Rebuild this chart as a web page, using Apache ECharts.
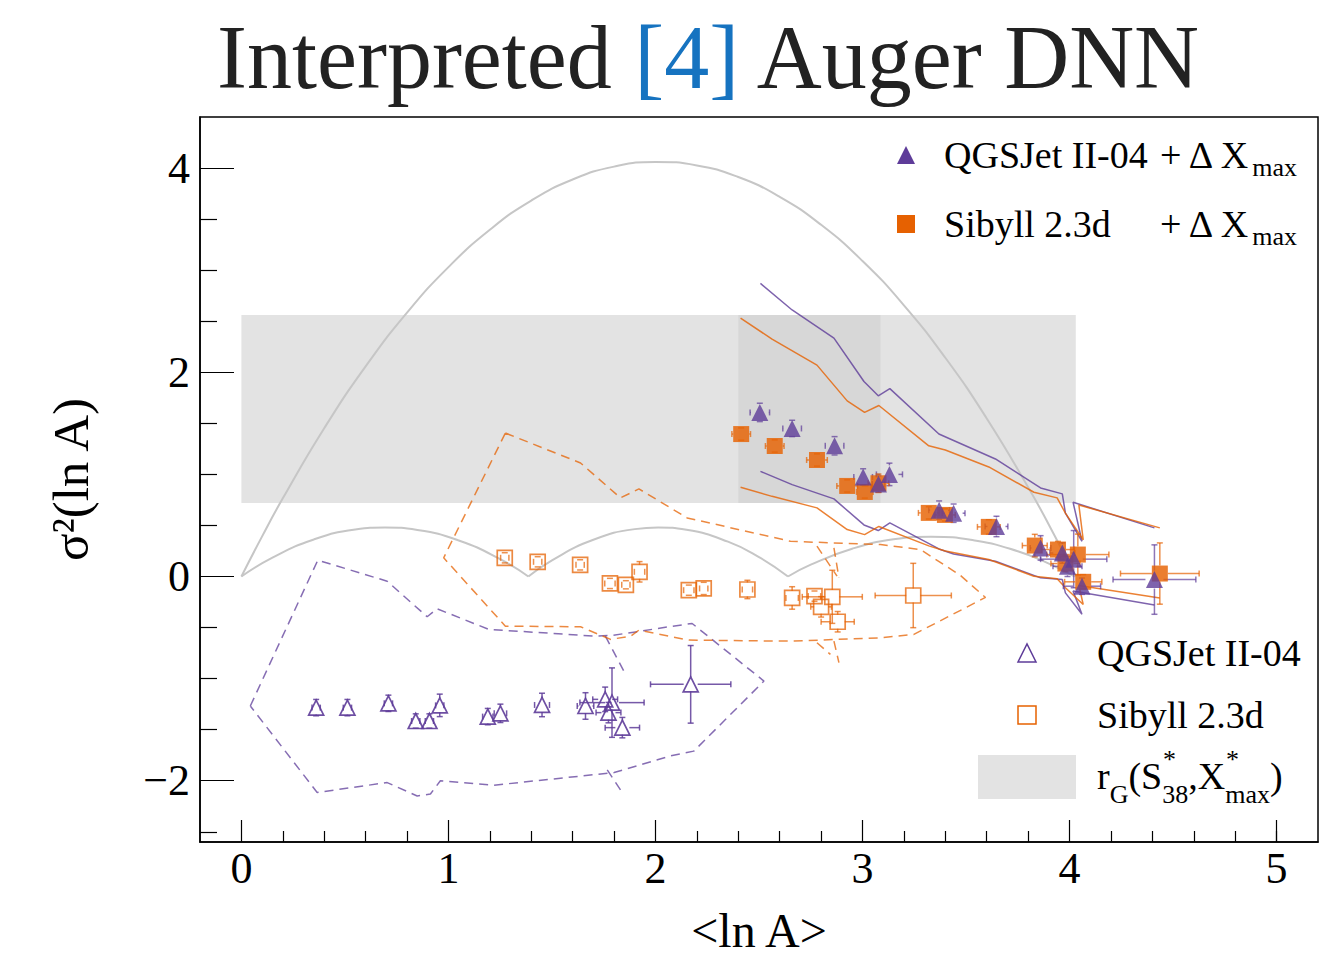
<!DOCTYPE html>
<html><head><meta charset="utf-8">
<script src="https://cdn.jsdelivr.net/npm/echarts@6/dist/echarts.min.js"></script>
<style>html,body{margin:0;padding:0;background:#fff}#c{width:1324px;height:964px}</style>
</head><body><div id="c"></div>
<script>
// ---------- data ----------
// QGSJet II-04 + dXmax (filled triangles)
const qdX  = [2.504, 2.66, 2.865, 3.003, 3.077, 3.13, 3.37, 3.44, 3.647, 3.86, 3.965, 3.99, 4.06, 4.02, 4.41];
const qdY  = [1.607, 1.45, 1.28, 0.975, 0.905, 1.00, 0.65, 0.62, 0.49, 0.28, 0.23, 0.10, -0.095, 0.17, -0.03];
const qdXe = [0.047, 0.045, 0.045, 0.045, 0.03, 0.063, 0.05, 0.055, 0.055, 0.05, 0.06, 0.07, 0.09, 0.16, 0.2];
const qdYe = [0.09, 0.08, 0.09, 0.08, 0.08, 0.11, 0.09, 0.09, 0.1, 0.12, 0.1, 0.1, 0.08, 0.28, 0.34];
// Sibyll 2.3d + dXmax (filled squares)
const sdX  = [2.414, 2.576, 2.78, 2.926, 3.011, 3.077, 3.32, 3.398, 3.61, 3.832, 3.944, 3.98, 4.066, 4.04, 4.436];
const sdY  = [1.395, 1.278, 1.141, 0.887, 0.828, 0.913, 0.623, 0.603, 0.486, 0.303, 0.264, 0.127, -0.052, 0.215, 0.029];
const sdXe = [0.045, 0.045, 0.05, 0.05, 0.04, 0.05, 0.05, 0.05, 0.055, 0.06, 0.08, 0.07, 0.09, 0.15, 0.19];
const sdYe = [0.06, 0.06, 0.06, 0.06, 0.06, 0.09, 0.06, 0.06, 0.07, 0.11, 0.08, 0.08, 0.07, 0.2, 0.30];
// QGSJet II-04 (open triangles)
const qX  = [0.361, 0.512, 0.71, 0.842, 0.908, 0.958, 1.19, 1.251, 1.452, 1.662, 1.757, 1.79, 1.773, 1.84, 2.17];
const qY  = [-1.284, -1.284, -1.242, -1.415, -1.415, -1.262, -1.372, -1.34, -1.258, -1.268, -1.203, -1.235, -1.333, -1.48, -1.056];
const qXe = [0.02, 0.02, 0.02, 0.02, 0.02, 0.02, 0.025, 0.03, 0.036, 0.04, 0.06, 0.155, 0.06, 0.083, 0.194];
const qYe = [0.08, 0.08, 0.08, 0.07, 0.07, 0.11, 0.08, 0.09, 0.115, 0.13, 0.12, 0.34, 0.1, 0.1, 0.38];
// Sibyll 2.3d (open squares)
const sX  = [1.272, 1.431, 1.636, 1.78, 1.857, 1.923, 2.161, 2.233, 2.444, 2.66, 2.768, 2.80, 2.854, 2.88, 3.245];
const sY  = [0.183, 0.144, 0.114, -0.068, -0.081, 0.046, -0.134, -0.117, -0.127, -0.21, -0.192, -0.297, -0.199, -0.443, -0.186];
const sXe = [0.02, 0.02, 0.02, 0.025, 0.02, 0.025, 0.025, 0.02, 0.025, 0.03, 0.03, 0.05, 0.145, 0.08, 0.184];
const sYe = [0.05, 0.05, 0.05, 0.05, 0.04, 0.1, 0.05, 0.06, 0.09, 0.11, 0.05, 0.1, 0.26, 0.1, 0.315];

// systematic bands (solid lines)
const sysQX  = [2.507, 2.66, 2.862, 3.007, 3.076, 3.132, 3.369, 3.44, 3.642, 3.86, 3.965, 3.98, 4.06, 4.017, 4.41];
const sysQUp = [2.87, 2.61, 2.334, 1.91, 1.77, 1.84, 1.395, 1.332, 1.151, 0.867, 0.809, 0.62, 0.345, 0.727, 0.476];
const sysQLo = [1.03, 0.90, 0.76, 0.505, 0.45, 0.525, 0.27, 0.22, 0.15, -0.013, -0.03, -0.16, -0.37, -0.143, -0.28];
const sysSX  = [2.411, 2.563, 2.78, 2.926, 3.01, 3.079, 3.32, 3.40, 3.61, 3.828, 3.94, 3.98, 4.066, 4.045, 4.436];
const sysSUp = [2.53, 2.325, 2.07, 1.72, 1.607, 1.675, 1.28, 1.239, 1.073, 0.825, 0.77, 0.62, 0.36, 0.70, 0.476];
const sysSLo = [0.874, 0.785, 0.672, 0.46, 0.41, 0.49, 0.30, 0.25, 0.166, 0.003, -0.022, -0.11, -0.274, -0.088, -0.21];

// dashed contours
const contQX = [0.043, 0.369, 0.704, 0.897, 0.945, 1.195, 1.71, 1.79, 1.928, 2.072, 2.177, 2.524, 2.185, 2.072, 1.80, 1.219, 0.961, 0.913, 0.849, 0.704, 0.366, 0.043];
const contQY = [-1.268, 0.16, -0.046, -0.394, -0.316, -0.518, -0.584, -0.577, -0.535, -0.49, -0.46, -1.024, -1.71, -1.757, -1.92, -2.044, -2.0, -2.13, -2.149, -2.018, -2.115, -1.268];
const spurQX = [[1.758, 1.847], [1.767, 1.839]];
const spurQY = [[-0.584, -0.926], [-1.894, -2.115]];
const contSX = [1.275, 1.638, 1.831, 1.92, 2.153, 2.652, 2.78, 3.087, 3.28, 3.473, 3.594, 3.248, 3.087, 2.652, 2.161, 1.92, 1.88, 1.783, 1.638, 1.275, 0.977, 1.275];
const contSY = [1.405, 1.112, 0.77, 0.858, 0.574, 0.345, 0.335, 0.313, 0.264, 0.01, -0.205, -0.567, -0.6, -0.633, -0.623, -0.525, -0.584, -0.616, -0.492, -0.486, 0.183, 1.405];
const spurSX = [[2.78, 2.877], [2.862, 2.886], [2.78, 2.845], [2.862, 2.886]];
const spurSY = [[0.297, 0.003], [0.28, -0.013], [-0.649, -0.763], [-0.633, -0.844]];

// envelope (grey curves)
const envUpX = [0, 0.1, 0.2, 0.4, 0.6, 0.8, 1.0, 1.2, 1.4, 1.6, 1.8, 2.0, 2.2, 2.4, 2.6, 2.8, 3.0, 3.2, 3.4, 3.6, 3.8, 3.9, 4.03];
const envUpY = [0, 0.393, 0.766, 1.452, 2.058, 2.584, 3.03, 3.396, 3.682, 3.888, 4.014, 4.06, 4.026, 3.912, 3.718, 3.444, 3.09, 2.656, 2.142, 1.548, 0.874, 0.507, 0];
const arc1X = [0, 0.15, 0.35, 0.55, 0.693, 0.85, 1.05, 1.25, 1.386];
const arc1Y = [0, 0.185, 0.363, 0.46, 0.48, 0.456, 0.353, 0.17, 0];
const arc2X = [1.386, 1.5, 1.7, 1.9, 2.013, 2.15, 2.35, 2.5, 2.64];
const arc2Y = [0, 0.159, 0.36, 0.464, 0.48, 0.457, 0.341, 0.19, 0];
const arc3X = [2.64, 2.75, 2.95, 3.15, 3.33, 3.55, 3.75, 3.9, 4.025];
const arc3Y = [0, 0.116, 0.272, 0.364, 0.39, 0.35, 0.247, 0.126, 0];

// r_G band
const bandX = [0, 4.03];
const bandY = [0.72, 2.56];
const bandDarkX = [2.40, 3.087];

// axis ticks
const xMajor = [0, 1, 2, 3, 4, 5];
const xMinor = [0.2,0.4,0.6,0.8,1.2,1.4,1.6,1.8,2.2,2.4,2.6,2.8,3.2,3.4,3.6,3.8,4.2,4.4,4.6,4.8,5.0];
const yMajor = [-2, 0, 2, 4];
const yMinor = [-2.5,-1.5,-1,-0.5,0.5,1,1.5,2.5,3,3.5];

// ---------- drawing ----------
const PURPLE = '#5e3c99', ORANGE = '#e66101';
const SERIF = "'Liberation Serif','Times New Roman',serif";
const zip = (a, b) => a.map((v, i) => [v, b[i]]);
const zip4 = (a, b, c, d) => a.map((v, i) => [v, b[i], c[i], d[i]]);

function errSeries(x, y, xe, ye, color, half, opacity) {
  return {
    type: 'custom', z: 5, silent: true,
    data: zip4(x, y, xe, ye),
    encode: { x: 0, y: 1 },
    renderItem: function (params, api) {
      const vx = api.value(0), vy = api.value(1), ex = api.value(2), ey = api.value(3);
      const c = api.coord([vx, vy]);
      const l = api.coord([vx - ex, vy]), r = api.coord([vx + ex, vy]);
      const t = api.coord([vx, vy + ey]), b = api.coord([vx, vy - ey]);
      const st = { stroke: color, lineWidth: 1.5, opacity: opacity };
      const cap = 3;
      const ch = [];
      if (c[0] - l[0] > half) ch.push({ type: 'line', shape: { x1: l[0], y1: c[1], x2: c[0] - half, y2: c[1] }, style: st });
      if (r[0] - c[0] > half) ch.push({ type: 'line', shape: { x1: c[0] + half, y1: c[1], x2: r[0], y2: c[1] }, style: st });
      if (c[1] - t[1] > half) ch.push({ type: 'line', shape: { x1: c[0], y1: t[1], x2: c[0], y2: c[1] - half }, style: st });
      if (b[1] - c[1] > half) ch.push({ type: 'line', shape: { x1: c[0], y1: c[1] + half, x2: c[0], y2: b[1] }, style: st });
      ch.push({ type: 'line', shape: { x1: l[0], y1: c[1] - cap, x2: l[0], y2: c[1] + cap }, style: st });
      ch.push({ type: 'line', shape: { x1: r[0], y1: c[1] - cap, x2: r[0], y2: c[1] + cap }, style: st });
      ch.push({ type: 'line', shape: { x1: c[0] - cap, y1: t[1], x2: c[0] + cap, y2: t[1] }, style: st });
      ch.push({ type: 'line', shape: { x1: c[0] - cap, y1: b[1], x2: c[0] + cap, y2: b[1] }, style: st });
      return { type: 'group', children: ch };
    }
  };
}

function lineSeries(x, y, color, opt) {
  opt = opt || {};
  return {
    type: 'line', data: zip(x, y), showSymbol: false, symbol: 'none', silent: true,
    smooth: opt.smooth || false, z: opt.z || 3, animation: false,
    lineStyle: { color: color, width: opt.width || 1.5, type: opt.type || 'solid', opacity: opt.opacity == null ? 1 : opt.opacity }
  };
}

const series = [];
// band rectangles
series.push({
  type: 'custom', z: 1, silent: true,
  data: [[bandX[0], bandX[1], bandY[0], bandY[1], 0], [bandDarkX[0], bandDarkX[1], bandY[0], bandY[1], 1]],
  encode: { x: [0, 1], y: [2, 3] },
  renderItem: function (params, api) {
    const p0 = api.coord([api.value(0), api.value(3)]);
    const p1 = api.coord([api.value(1), api.value(2)]);
    return { type: 'rect', shape: { x: p0[0], y: p0[1], width: p1[0] - p0[0], height: p1[1] - p0[1] },
      style: { fill: api.value(4) ? '#d7d7d7' : '#e3e3e3' } };
  }
});
// envelope
const GREY = '#c6c6c6';
series.push(lineSeries(envUpX, envUpY, GREY, { smooth: true, width: 2, z: 2 }));
series.push(lineSeries(arc1X, arc1Y, GREY, { smooth: true, width: 2, z: 2 }));
series.push(lineSeries(arc2X, arc2Y, GREY, { smooth: true, width: 2, z: 2 }));
series.push(lineSeries(arc3X, arc3Y, GREY, { smooth: true, width: 2, z: 2 }));
// dashed contours
const DASH = [9, 6];
series.push(lineSeries(contQX, contQY, PURPLE, { type: DASH, opacity: 0.75 }));
spurQX.forEach((sx, i) => series.push(lineSeries(sx, spurQY[i], PURPLE, { type: DASH, opacity: 0.75 })));
series.push(lineSeries(contSX, contSY, ORANGE, { type: DASH, opacity: 0.75 }));
spurSX.forEach((sx, i) => series.push(lineSeries(sx, spurSY[i], ORANGE, { type: DASH, opacity: 0.75 })));
// systematic lines
series.push(lineSeries(sysQX, sysQUp, PURPLE, { opacity: 0.8 }));
series.push(lineSeries(sysQX, sysQLo, PURPLE, { opacity: 0.8 }));
series.push(lineSeries(sysSX, sysSUp, ORANGE, { opacity: 0.8 }));
series.push(lineSeries(sysSX, sysSLo, ORANGE, { opacity: 0.8 }));
// error bars
series.push(errSeries(qX, qY, qXe, qYe, PURPLE, 7, 0.85));
series.push(errSeries(sX, sY, sXe, sYe, ORANGE, 7, 0.7));
series.push(errSeries(qdX, qdY, qdXe, qdYe, PURPLE, 9, 0.7));
series.push(errSeries(sdX, sdY, sdXe, sdYe, ORANGE, 8, 0.7));
// markers
series.push({ type: 'scatter', z: 6, silent: true, data: zip(qX, qY), symbol: 'triangle', symbolSize: [15, 15],
  itemStyle: { color: 'rgba(255,255,255,0)', borderColor: PURPLE, borderWidth: 1.7, opacity: 0.9 } });
series.push({ type: 'scatter', z: 6, silent: true, data: zip(sX, sY), symbol: 'rect', symbolSize: [15, 15],
  itemStyle: { color: 'rgba(255,255,255,0)', borderColor: ORANGE, borderWidth: 1.7, opacity: 0.75 } });
series.push({ type: 'scatter', z: 7, silent: true, data: zip(sdX, sdY), symbol: 'rect', symbolSize: [16, 16],
  itemStyle: { color: ORANGE, opacity: 0.82 } });
series.push({ type: 'scatter', z: 8, silent: true, data: zip(qdX, qdY), symbol: 'triangle', symbolSize: [17, 17],
  itemStyle: { color: PURPLE, opacity: 0.8 } });

const minus = v => (v < 0 ? '\u2212' + Math.abs(v) : String(v));
const axisFont = { fontFamily: SERIF, fontSize: 44, color: '#000' };

const rich = {
  m: { fontFamily: SERIF, fontSize: 38, color: '#000', lineHeight: 44 },
  s: { fontFamily: SERIF, fontSize: 26, color: '#000', lineHeight: 10, verticalAlign: 'middle', padding: [24, 0, 0, 0] },
  t: { fontFamily: SERIF, fontSize: 26, color: '#000', lineHeight: 10, verticalAlign: 'middle', padding: [36, 0, 0, 0] }
};

const option = {
  animation: false,
  backgroundColor: '#fff',
  title: {
    text: '{a|Interpreted }{b|[4]}{a| Auger DNN}',
    left: 212, top: 7,
    textStyle: { fontWeight: 'normal', rich: {
      a: { fontFamily: SERIF, fontSize: 90, fontWeight: 'normal', color: '#222' },
      b: { fontFamily: SERIF, fontSize: 90, fontWeight: 'normal', color: '#1673c0' }
    } }
  },
  grid: { left: 200, top: 117, right: 6, bottom: 122, show: true, borderColor: '#000', borderWidth: 1.5, backgroundColor: 'transparent' },
  xAxis: [
    { type: 'value', min: -0.2, max: 5.2, position: 'bottom',
      axisLine: { show: true, onZero: false, lineStyle: { color: '#000', width: 1.5 } },
      axisTick: { show: true, inside: true, length: 22, customValues: xMajor, lineStyle: { color: '#000', width: 1.2 } },
      axisLabel: { show: true, customValues: xMajor, margin: 4, formatter: minus, ...axisFont },
      splitLine: { show: false },
      name: '<ln A>', nameLocation: 'middle', nameGap: 64,
      nameTextStyle: { fontFamily: SERIF, fontSize: 48, color: '#000' } },
    { type: 'value', min: -0.2, max: 5.2, position: 'bottom',
      axisLine: { show: false, onZero: false },
      axisTick: { show: true, inside: true, length: 11, customValues: xMinor, lineStyle: { color: '#000', width: 1.2 } },
      axisLabel: { show: false }, splitLine: { show: false } }
  ],
  yAxis: [
    { type: 'value', min: -2.6, max: 4.5, position: 'left',
      axisLine: { show: true, onZero: false, lineStyle: { color: '#000', width: 1.5 } },
      axisTick: { show: true, inside: true, length: 34, customValues: yMajor, lineStyle: { color: '#000', width: 1.2 } },
      axisLabel: { show: true, customValues: yMajor, margin: 10, formatter: minus, ...axisFont },
      splitLine: { show: false },
      name: '\u03c3\u00b2(ln A)', nameLocation: 'middle', nameGap: 104, nameRotate: 90,
      nameTextStyle: { fontFamily: SERIF, fontSize: 51, color: '#000' } },
    { type: 'value', min: -2.6, max: 4.5, position: 'left',
      axisLine: { show: false, onZero: false },
      axisTick: { show: true, inside: true, length: 17, customValues: yMinor, lineStyle: { color: '#000', width: 1.2 } },
      axisLabel: { show: false }, splitLine: { show: false } }
  ],
  series: series,
  graphic: [
    // top legend
    { type: 'polygon', shape: { points: [[897, 164], [915, 164], [906, 146]] }, style: { fill: PURPLE } },
    { type: 'rect', shape: { x: 897, y: 215, width: 18, height: 18 }, style: { fill: ORANGE } },
    { type: 'text', left: 944, top: 136, style: { text: '{m|QGSJet II-04}', rich: rich } },
    { type: 'text', left: 1160, top: 130, style: { text: '{m|+ \u0394 X}{s|max}', rich: rich } },
    { type: 'text', left: 944, top: 205, style: { text: '{m|Sibyll 2.3d}', rich: rich } },
    { type: 'text', left: 1160, top: 199, style: { text: '{m|+ \u0394 X}{s|max}', rich: rich } },
    // bottom legend
    { type: 'polygon', shape: { points: [[1018, 662], [1036, 662], [1027, 644]] }, style: { fill: 'none', stroke: PURPLE, lineWidth: 1.5 } },
    { type: 'rect', shape: { x: 1018, y: 706, width: 18, height: 18 }, style: { fill: 'none', stroke: ORANGE, lineWidth: 1.5 } },
    { type: 'rect', shape: { x: 978, y: 755, width: 98, height: 44 }, style: { fill: '#e3e3e3' } },
    { type: 'text', left: 1097, top: 634, style: { text: '{m|QGSJet II-04}', rich: rich } },
    { type: 'text', left: 1097, top: 696, style: { text: '{m|Sibyll 2.3d}', rich: rich } },
    { type: 'text', left: 1097, top: 745, style: { text: '{m|r}{t|G}{m|(S}{t|38}{m|,X}{t|max}{m|)}', rich: rich } },
    { type: 'text', left: 1163, top: 746, style: { text: '*', fontFamily: SERIF, fontSize: 26, fill: '#000' } },
    { type: 'text', left: 1226, top: 746, style: { text: '*', fontFamily: SERIF, fontSize: 26, fill: '#000' } }
  ]
};

const chart = echarts.init(document.getElementById('c'), null, { renderer: 'svg', width: 1324, height: 964 });
chart.setOption(option);
</script>
</body></html>
